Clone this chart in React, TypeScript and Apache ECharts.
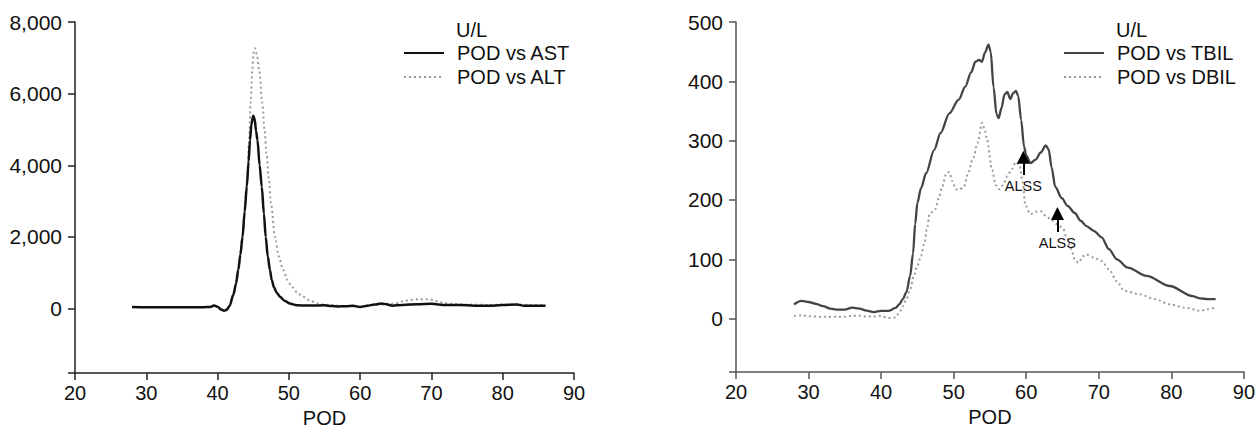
import React, { useEffect, useRef } from "react";
import * as echarts from "echarts";

const FONT = "'Liberation Sans', Arial, Helvetica, sans-serif";

// ---- Left chart: POD vs AST / ALT (U/L) ----
const AST: [number, number][] = [
  [28, 40], [30, 35], [32, 35], [34, 35], [36, 35], [38, 38], [39, 45], [39.5, 85], [40, 50],
  [40.5, -30], [40.9, -60], [41.3, -40], [41.7, 80], [42.2, 380], [42.6, 700], [42.9, 1080],
  [43.2, 1500], [43.5, 2000], [43.8, 2700], [44.1, 3400], [44.35, 4100], [44.55, 4700],
  [44.75, 5150], [45.0, 5380], [45.2, 5300], [45.4, 4950], [45.6, 4700], [45.9, 4000],
  [46.2, 3400], [46.5, 2650], [46.75, 2000], [47.05, 1450], [47.35, 1070], [47.6, 800],
  [47.9, 600], [48.3, 440], [48.75, 330], [49.4, 220], [50.1, 140], [51.1, 90], [53, 85],
  [55, 90], [56, 70], [57, 60], [58, 65], [59, 80], [60, 40], [61, 80], [62, 110], [63, 140],
  [63.7, 120], [64.5, 80], [66, 100], [68, 120], [70, 130], [72, 100], [74, 100], [76, 80],
  [78, 75], [80, 100], [82, 110], [83, 80], [86, 80],
];
const ALT: [number, number][] = [
  [28, 40], [32, 35], [36, 35], [39, 40], [39.5, 80], [40, 40], [40.9, -50], [41.7, 80],
  [42.2, 380], [42.9, 1050], [43.5, 2000], [44.1, 3500], [44.4, 4600], [44.64, 5740],
  [44.87, 6660], [45.05, 7150], [45.25, 7270], [45.5, 7100], [45.85, 6660], [46.27, 5740],
  [46.6, 4950], [46.87, 4330], [47.2, 3600], [47.49, 2940], [48.05, 2000], [48.6, 1450],
  [49.2, 1080], [49.8, 800], [50.4, 610], [51.2, 440], [52.0, 330], [53, 220], [53.9, 150],
  [55, 110], [56, 90], [58, 70], [60, 60], [62, 100], [64, 110], [65, 150], [66, 200],
  [67, 240], [68.3, 262], [69.5, 262], [70.3, 240], [71, 190], [71.7, 150], [73, 130],
  [75, 110], [78, 100], [80, 110], [82, 110], [84, 100], [86, 90],
];

// ---- Right chart: POD vs TBIL / DBIL (U/L) ----
const TBIL: [number, number][] = [
  [28, 24], [29, 30], [30, 28], [31, 25], [32, 21], [33, 17], [34, 15], [35, 15], [36, 18.5],
  [37, 17], [38, 13.5], [39, 11], [40, 13], [41, 13], [42, 18], [42.5, 24], [43, 33],
  [43.5, 45], [44, 72], [44.4, 110], [44.7, 160], [45.0, 195], [45.5, 220], [46.2, 245],
  [47.3, 284], [48.2, 313], [49.4, 346], [50.7, 369], [51.6, 391], [52.4, 415], [53, 433],
  [53.5, 436], [53.9, 433], [54.3, 448], [54.8, 462], [55.1, 450], [55.5, 390], [55.9, 345],
  [56.2, 338], [56.6, 355], [57, 378], [57.4, 382], [57.8, 370], [58.2, 380], [58.6, 384],
  [58.9, 375], [59.3, 335], [59.7, 290], [60, 275], [60.6, 262], [61.3, 268], [62, 280],
  [62.7, 292], [63.1, 285], [63.5, 255], [64, 222], [64.9, 203], [65.7, 190], [66.7, 178],
  [67.5, 165], [68.3, 156], [69.3, 148], [70.4, 137], [71.4, 117], [72.5, 100], [74, 86],
  [76.6, 72], [79.8, 55], [82.9, 38], [84, 34], [85, 33], [86.1, 33],
];
const DBIL: [number, number][] = [
  [28, 4.5], [29, 5.6], [30, 4], [32, 3], [34, 3], [35, 3], [36, 5], [37, 5], [38, 3.5],
  [39, 3.5], [40, 4.5], [41, 1], [42, 1.7], [42.5, 10], [43, 21], [43.5, 33], [44, 49],
  [44.5, 72], [45, 89], [45.5, 106], [46, 130], [46.3, 150], [46.7, 177], [47.1, 180],
  [47.5, 185], [48, 205], [48.4, 222], [49, 245], [49.4, 247], [49.8, 232], [50.3, 218],
  [50.7, 217], [51.4, 222], [52, 245], [52.6, 267], [53.3, 296], [53.9, 330], [54.3, 318],
  [54.6, 301], [55.3, 251], [55.8, 225], [56.3, 218], [56.8, 225], [57.4, 240], [58, 252],
  [58.6, 264], [59.1, 258], [59.5, 230], [59.9, 190], [60.6, 176], [61.3, 180], [62, 181],
  [62.8, 172], [63.6, 165], [64.4, 158], [65.1, 151], [65.6, 135], [66.2, 117], [66.7, 100],
  [67.2, 94], [67.8, 105], [68.3, 108], [69.3, 103], [70.4, 97], [71.4, 83], [72.5, 63],
  [73.5, 47], [75.6, 41], [77.7, 33], [79.8, 24], [81.9, 18.5], [84, 13], [85, 15.7],
  [86.1, 18.5],
];

// ALSS annotations: [POD, arrow base value, arrow head value]
const ALSS_MARKS: [number, number, number][] = [
  [59.6, 242, 272],
  [64.3, 146, 177],
];

const LEFT_Y_TICKS = [0, 2000, 4000, 6000, 8000];
const RIGHT_Y_TICKS = [0, 100, 200, 300, 400, 500];
const LEFT_Y_MIN = -1800;
const LEFT_Y_MAX = 8000;
const RIGHT_Y_MIN = -90;
const RIGHT_Y_MAX = 500;
const LEFT_NAMES = ["POD vs AST", "POD vs ALT"];
const RIGHT_NAMES = ["POD vs TBIL", "POD vs DBIL"];
const UNIT = "U/L";
const X_NAME = "POD";

const fmt = (v: number) => String(v).replace(/\B(?=(\d{3})+(?!\d))/g, ",");

function xAxisCfg(grid: number, color: string) {
  return {
    gridIndex: grid,
    type: "value",
    min: 20,
    max: 90,
    interval: 10,
    name: X_NAME,
    nameLocation: "middle",
    nameGap: 33,
    nameTextStyle: { fontSize: 20, color: "#111", fontFamily: FONT },
    axisLine: { show: true, onZero: false, lineStyle: { color, width: 1.5 } },
    axisTick: { show: true, length: 7, lineStyle: { color, width: 1.5 } },
    axisLabel: { fontSize: 20, color: "#111", fontFamily: FONT, margin: 10 },
    splitLine: { show: false },
  };
}

function yAxisCfg(grid: number, color: string, min: number, max: number, ticks: number[], fmtFn: (v: number) => string) {
  return {
    gridIndex: grid,
    type: "value",
    min,
    max,
    axisLine: { show: true, onZero: false, lineStyle: { color, width: 1.5 } },
    axisTick: { show: true, length: 7, customValues: [min, ...ticks], lineStyle: { color, width: 1.5 } },
    axisLabel: {
      customValues: ticks,
      fontSize: 21,
      color: "#111",
      fontFamily: FONT,
      margin: 13,
      formatter: (v: number) => fmtFn(v),
    },
    splitLine: { show: false },
  };
}

function legendCfg(names: string[], left: number) {
  return {
    data: names,
    orient: "vertical",
    left,
    top: 43,
    padding: 0,
    itemWidth: 40,
    itemHeight: 14,
    itemGap: 4,
    itemStyle: { opacity: 0 },
    textStyle: { fontSize: 20, color: "#111", fontFamily: FONT, padding: [0, 0, 0, 8] },
  };
}

function titleCfg(left: number) {
  return {
    text: UNIT,
    left,
    top: 20,
    padding: 0,
    textStyle: { fontSize: 20, fontWeight: "normal", color: "#111", fontFamily: FONT },
  };
}

export default function App() {
  const ref = useRef<HTMLDivElement>(null);
  useEffect(() => {
    if (!ref.current) return;
    const chart = echarts.init(ref.current, undefined, { renderer: "svg" });
    const option = {
      animation: false,
      backgroundColor: "#ffffff",
      textStyle: { fontFamily: FONT },
      title: [titleCfg(456), titleCfg(1116)],
      legend: [legendCfg(LEFT_NAMES, 403), legendCfg(RIGHT_NAMES, 1063)],
      grid: [
        { left: 75, top: 22, width: 499, height: 351, containLabel: false },
        { left: 736, top: 22, width: 510, height: 350, containLabel: false },
      ],
      xAxis: [xAxisCfg(0, "#222"), xAxisCfg(1, "#555")],
      yAxis: [
        yAxisCfg(0, "#222", LEFT_Y_MIN, LEFT_Y_MAX, LEFT_Y_TICKS, fmt),
        yAxisCfg(1, "#555", RIGHT_Y_MIN, RIGHT_Y_MAX, RIGHT_Y_TICKS, (v) => String(v)),
      ],
      series: [
        {
          name: LEFT_NAMES[1],
          type: "line",
          xAxisIndex: 0,
          yAxisIndex: 0,
          data: ALT,
          symbol: "none",
          smooth: 0.3,
          smoothMonotone: "x",
          lineStyle: { color: "#9a9a9a", width: 2, type: [2, 3] },
          itemStyle: { color: "#9a9a9a" },
        },
        {
          name: LEFT_NAMES[0],
          type: "line",
          xAxisIndex: 0,
          yAxisIndex: 0,
          data: AST,
          symbol: "none",
          smooth: 0.3,
          smoothMonotone: "x",
          lineStyle: { color: "#111", width: 2.5 },
          itemStyle: { color: "#111" },
        },
        {
          name: RIGHT_NAMES[1],
          type: "line",
          xAxisIndex: 1,
          yAxisIndex: 1,
          data: DBIL,
          symbol: "none",
          smooth: 0.3,
          smoothMonotone: "x",
          lineStyle: { color: "#9a9a9a", width: 2, type: [2, 3] },
          itemStyle: { color: "#9a9a9a" },
        },
        {
          name: RIGHT_NAMES[0],
          type: "line",
          xAxisIndex: 1,
          yAxisIndex: 1,
          data: TBIL,
          symbol: "none",
          smooth: 0.3,
          smoothMonotone: "x",
          lineStyle: { color: "#444", width: 2.3 },
          itemStyle: { color: "#222" },
          markLine: {
            silent: true,
            animation: false,
            symbol: ["none", "triangle"],
            symbolSize: 13,
            lineStyle: { color: "#000", width: 2, type: "solid" },
            itemStyle: { color: "#000" },
            label: {
              show: true,
              position: "start",
              formatter: "ALSS",
              fontSize: 14.5,
              color: "#111",
              fontFamily: FONT,
              distance: 3,
            },
            emphasis: { disabled: true },
            data: ALSS_MARKS.map(([x, y0, y1]) => [
              { coord: [x, y0] },
              { coord: [x, y1] },
            ]),
          },
        },
      ],
    };
    chart.setOption(option as any);
    return () => chart.dispose();
  }, []);
  return (
    <div
      ref={ref}
      style={{ position: "fixed", left: 0, top: 0, width: 1258, height: 435, background: "#fff" }}
    />
  );
}
